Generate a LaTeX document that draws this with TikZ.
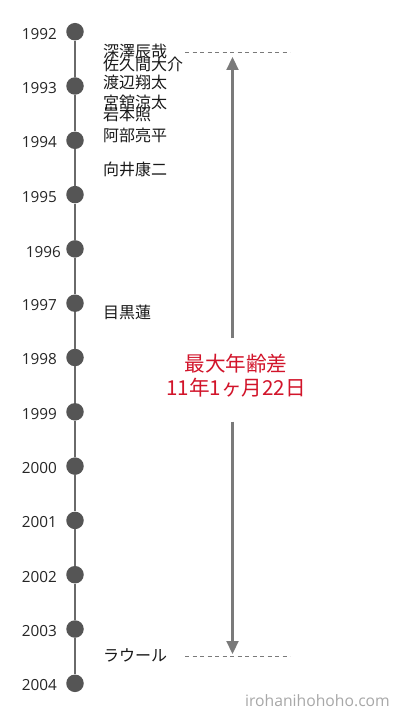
\documentclass[tikz,border=0pt]{standalone}
\usepackage{fontspec}
\setmainfont{Open Sans}
\newfontfamily\jpfont{Noto Sans CJK JP}
\usetikzlibrary{arrows.meta}
\definecolor{dotgray}{HTML}{555555}
\definecolor{linegray}{HTML}{6A6A6A}
\definecolor{arrowgray}{HTML}{7A7A7A}
\definecolor{agered}{HTML}{D2142A}
\definecolor{markgray}{HTML}{A8A8A8}
\begin{document}
\begin{tikzpicture}[x=1pt,y=-1pt]
\tikzstyle{every node}+=[inner sep=0pt]
\tikzstyle{yeardot}=[circle,fill=dotgray,minimum size=17.5pt]
\tikzstyle{yearlabel}=[anchor=east,text=black!85,font=\fontsize{15.3}{16}\selectfont]
\tikzstyle{member}=[anchor=west,text=black!90,font=\jpfont\fontsize{16}{18}\selectfont]
\tikzstyle{guide}=[arrowgray,line width=1pt,dash pattern=on 4pt off 3.5pt]
\tikzstyle{span}=[arrowgray,line width=2.2pt,-{Triangle[length=13pt,width=12pt]}]
\fill [white] (0,0) rectangle (400,719);
\useasboundingbox (0,0) rectangle (400,719);
\foreach \yr [count=\i from 0] in {1992,...,2004}
  \node [yeardot] (d\yr) at (75,{31.7+54.3*\i}) {};
\foreach \yr [evaluate=\yr as \nxt using int(\yr+1)] in {1992,...,2003}
  \draw [linegray,line width=1.8pt] (d\yr) -- (d\nxt);
\foreach \yr in {1992,1993,1994,1995,1997,1998,1999,2000,2001,2002,2003,2004}
  \node [yearlabel] (l\yr) at ([xshift=-9pt,yshift=-2pt]d\yr.west) {\yr};
\node [yearlabel] (l1996) at ([xshift=-5pt,yshift=-3.5pt]d1996.west) {1996};
\node [member] (fukazawa) at (103,51.5) {深澤辰哉};
\node [member] (sakuma) at (103,64) {佐久間大介};
\node [member] (watanabe) at (103,82) {渡辺翔太};
\node [member] (date) at (103,102.5) {宮舘涼太};
\node [member] (iwamoto) at (103,114.5) {岩本照};
\node [member] (abe) at (103,135.5) {阿部亮平};
\node [member] (mukai) at (103,169) {向井康二};
\node [member] (meguro) at (103,312.5) {目黒蓮};
\node [member] (raul) at (103,655.5) {ラウール};
\coordinate (topl) at (185,52.5);
\coordinate (topr) at (290,52.5);
\coordinate (botl) at (185,656.5);
\coordinate (botr) at (290,656.5);
\draw [guide] (topl) -- (topr);
\draw [guide] (botl) -- (botr);
\coordinate (uptip) at (232.5,57);
\coordinate (downtip) at (232.5,654);
\node [align=center,text=agered,font=\jpfont\fontsize{20.6}{24}\selectfont] (gap) at (236,376) {最大年齢差\\11年1ヶ月22日};
\draw [span] ([yshift=16pt]gap.north -| uptip) -- (uptip);
\draw [span] ([yshift=-24pt]gap.south -| downtip) -- (downtip);
\node [anchor=east,text=markgray,font=\fontsize{15.7}{17}\selectfont] (site) at (390,701) {irohanihohoho.com};
\end{tikzpicture}
\end{document}
